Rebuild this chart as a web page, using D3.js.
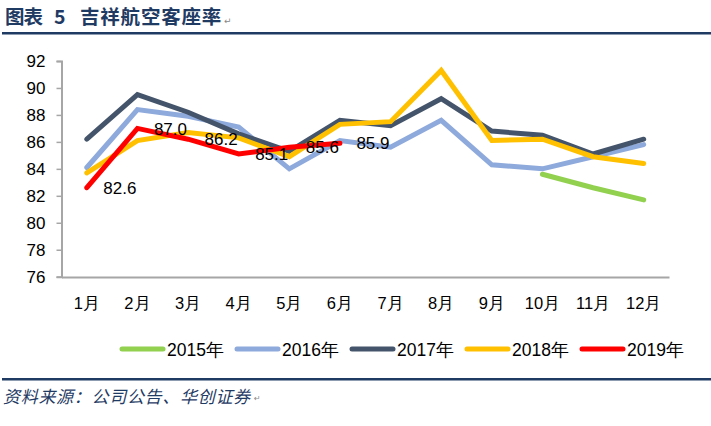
<!DOCTYPE html>
<html><head><meta charset="utf-8">
<script src="https://cdn.jsdelivr.net/npm/d3@7"></script>
<style>body{margin:0;background:#fff;}svg{display:block;}</style>
</head><body>
<svg id="c" width="711" height="426"></svg>
<script>
const months = ["1月","2月","3月","4月","5月","6月","7月","8月","9月","10月","11月","12月"];
const yTicks = [76,78,80,82,84,86,88,90,92];
const seriesNames = ["2015年","2016年","2017年","2018年","2019年"];
const seriesColors = ["#92D050","#8EA9DB","#44546A","#FFC000","#FF0000"];
const s2015 = [null,null,null,null,null,null,null,null,null,83.6,82.6,81.7];
const s2016 = [84.1,88.4,87.9,87.1,84.0,86.1,85.6,87.6,84.3,84.0,84.9,85.8];
const s2017 = [86.2,89.5,88.2,86.6,85.3,87.6,87.2,89.2,86.8,86.5,85.1,86.2];
const s2018 = [83.7,86.1,86.7,86.3,84.9,87.3,87.5,91.3,86.1,86.2,84.9,84.4];
const s2019 = [82.6,87.0,86.2,85.1,85.6,85.9];
const labels2019 = ["82.6","87.0","86.2","85.1","85.6","85.9"];
const allSeries = [s2015,s2016,s2017,s2018,s2019];

const svg = d3.select("#c");
const navy = "#1F3B64";
const cjk = "'Noto Sans CJK SC'";

// title
const tfont = (sel) => sel.attr("font-family",cjk).attr("font-weight","bold")
  .attr("font-size",19.5).attr("fill",navy);
tfont(svg.append("text").attr("x",5).attr("y",24).attr("letter-spacing",-1).text("图表"));
tfont(svg.append("text").attr("x",54).attr("y",24).attr("font-family","'Liberation Serif'").attr("font-size",21).text("5"));
tfont(svg.append("text").attr("x",80).attr("y",24).attr("letter-spacing",0.8).text("吉祥航空客座率"));
svg.append("text").attr("x",224).attr("y",24).attr("font-family","'DejaVu Sans'")
  .attr("font-size",9).attr("fill","#888").text("↵");
svg.append("rect").attr("x",2).attr("y",32).attr("width",709).attr("height",2.5).attr("fill",navy);

const x = d3.scaleBand().domain(months).range([61.5,669]);
const y = d3.scaleLinear().domain([76,92]).range([276.7,61]);

const font = "'Liberation Sans', Arial, sans-serif";

// y axis
const ya = svg.append("g").attr("transform","translate(61.5,0)")
  .call(d3.axisLeft(y).tickValues(yTicks).tickSize(5).tickPadding(11).tickFormat(d3.format("d")));
ya.select(".domain").attr("stroke","#A6A6A6").attr("stroke-width",2);
ya.selectAll(".tick line").attr("stroke","#A6A6A6").attr("stroke-width",1.5);
ya.selectAll(".tick text").attr("font-family",font).attr("font-size",17).attr("fill","#000");

// x axis
const xa = svg.append("g").attr("transform","translate(0,277)")
  .call(d3.axisBottom(x).tickSize(0).tickPadding(20));
xa.select(".domain").attr("stroke","#A6A6A6").attr("stroke-width",2);
xa.selectAll(".tick text").attr("font-family",font).attr("font-size",16.5).attr("fill","#000");

const line = d3.line()
  .defined(d => d != null)
  .x((d,i) => x(months[i]) + x.bandwidth()/2)
  .y(d => y(d));

allSeries.forEach((s,k) => {
  svg.append("path").datum(s).attr("d",line)
    .attr("fill","none").attr("stroke",seriesColors[k]).attr("stroke-width",5)
    .attr("stroke-linejoin","miter").attr("stroke-linecap","round");
});

// data labels for 2019
svg.append("g").selectAll("text").data(s2019).join("text")
  .attr("x",(d,i) => x(months[i]) + x.bandwidth()/2 + 33)
  .attr("y",d => y(d))
  .attr("dy","0.36em").attr("text-anchor","middle")
  .attr("font-family",font).attr("font-size",17).attr("fill","#000")
  .text((d,i) => labels2019[i]);

// legend
const lg = svg.append("g");
seriesNames.forEach((n,k) => {
  const lx = 122 + k*115;
  lg.append("line").attr("x1",lx).attr("x2",lx+41).attr("y1",349).attr("y2",349)
    .attr("stroke",seriesColors[k]).attr("stroke-width",5).attr("stroke-linecap","round");
  lg.append("text").attr("x",lx+45).attr("y",350).attr("dy","0.36em")
    .attr("font-family",font).attr("font-size",17.5).attr("fill","#000").text(n);
});

// bottom rule and source
svg.append("rect").attr("x",2).attr("y",378).attr("width",709).attr("height",2.5).attr("fill",navy);
svg.append("text").attr("x",3).attr("y",403)
  .attr("font-family",cjk).attr("font-style","italic")
  .attr("font-size",17).attr("letter-spacing",0.7).attr("fill",navy)
  .text("资料来源：公司公告、华创证券");
svg.append("text").attr("x",254).attr("y",401).attr("font-family","'DejaVu Sans'")
  .attr("font-size",8).attr("fill","#888").text("↵");
</script>
</body></html>
